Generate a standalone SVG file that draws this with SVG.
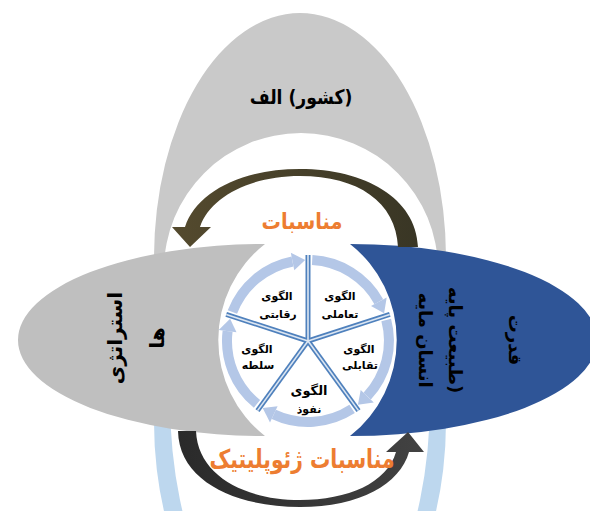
<svg xmlns="http://www.w3.org/2000/svg" width="590" height="511" viewBox="0 0 590 511">
<style>
.ar{font-family:"DejaVu Sans",sans-serif;font-weight:bold;direction:rtl;unicode-bidi:embed;text-anchor:middle}
.lbl{font-size:11px;fill:#000}
.big{font-size:20px;fill:#000}
.side{font-size:18px;fill:#000}
.org{fill:#ED7D31}
.ringarc{fill:none;stroke:#B4C7E7;stroke-width:10}
.ringhead{fill:#B4C7E7}
.div1{stroke:#4F81BD;stroke-width:5;stroke-linecap:butt}
.div2{stroke:#DCE6F2;stroke-width:1.6}
</style>
<defs>
<clipPath id="clipTop"><rect x="0" y="0" width="590" height="300"/></clipPath>
<clipPath id="clipBot"><rect x="0" y="380" width="590" height="131"/></clipPath>
<linearGradient id="gTop" x1="0" y1="0" x2="1" y2="0"><stop offset="0" stop-color="#544A2E"/><stop offset="1" stop-color="#393625"/></linearGradient>
<linearGradient id="gBot" x1="0" y1="0" x2="1" y2="0"><stop offset="0" stop-color="#2A2A2A"/><stop offset="1" stop-color="#424242"/></linearGradient>
</defs>
<rect width="590" height="511" fill="#FFFFFF"/>

<g id="country-a">
<path clip-path="url(#clipTop)" fill="#C9C9C9" fill-rule="evenodd" d="M154 258 A146 245 0 1 1 446 258 A146 245 0 1 1 154 258 Z M164 270 A137 137 0 1 0 438 270 A137 137 0 1 0 164 270 Z"/>
<text class="ar big" transform="translate(301,104) scale(0.86,1)" x="0" y="0">(کشور) الف</text>
</g>

<g id="geopolitics-ring">
<path clip-path="url(#clipBot)" fill="#BDD7EE" fill-rule="evenodd" d="M154 422 A146 245 0 1 1 446 422 A146 245 0 1 1 154 422 Z M170 400 A130 260 0 1 0 430 400 A130 260 0 1 0 170 400 Z"/>
</g>

<g id="strategies">
<path fill="#BFBFBF" d="M265 244 A247 96 0 0 0 265 436 A122 122 0 0 1 265 244 Z"/>
<g transform="translate(115,338) rotate(-90)">
<text class="ar big" x="0" y="7">استراتژی</text>
<text class="ar big" x="0" y="49">ها</text>
</g>
</g>

<g id="power">
<path fill="#2F5597" d="M350 244 A247 96 0 0 1 350 436 A122 122 0 0 0 350 244 Z"/>
<g transform="translate(515,340) rotate(90)">
<text class="ar side" x="0" y="6">قدرت</text>
<text class="ar side" x="0" y="66">(طبیعت پایه</text>
<text class="ar side" x="0" y="96">انسان مایه</text>
</g>
</g>

<g id="patterns">
<circle cx="308" cy="341" r="88" fill="#FFFFFF"/>
</g>

<g id="connectors">
<path class="ringarc" d="M312.2 260.1 A81 81 0 0 1 378.8 301.7"/>
<polygon class="ringhead" points="371,306.1 386.7,297.4 384.1,313.3"/>
<path class="ringarc" d="M386.2 320 A81 81 0 0 1 367.2 396.2"/>
<polygon class="ringhead" points="360.7,390.1 373.8,402.4 357.9,404.8"/>
<path class="ringarc" d="M352.1 408.9 A81 81 0 0 1 273.8 414.4"/>
<polygon class="ringhead" points="277.6,406.3 270,422.6 262.7,408.1"/>
<path class="ringarc" d="M257 403.9 A81 81 0 0 1 227.6 331.1"/>
<polygon class="ringhead" points="236.5,332.2 218.7,330 230.1,318.7"/>
<path class="ringarc" d="M232.4 312 A81 81 0 0 1 292.5 261.5"/>
<polygon class="ringhead" points="294.3,270.3 290.8,252.7 305.2,260"/>
<g>
<line class="div1" x1="308" y1="341" x2="308" y2="255"/>
<line class="div1" x1="308" y1="341" x2="389.8" y2="314.4"/>
<line class="div1" x1="308" y1="341" x2="358.5" y2="410.6"/>
<line class="div1" x1="308" y1="341" x2="257.5" y2="410.6"/>
<line class="div1" x1="308" y1="341" x2="226.2" y2="314.4"/>
<line class="div2" x1="308" y1="341" x2="308" y2="255"/>
<line class="div2" x1="308" y1="341" x2="389.8" y2="314.4"/>
<line class="div2" x1="308" y1="341" x2="358.5" y2="410.6"/>
<line class="div2" x1="308" y1="341" x2="257.5" y2="410.6"/>
<line class="div2" x1="308" y1="341" x2="226.2" y2="314.4"/>
</g>
<path fill="url(#gTop)" d="M418 247 C416 198 365 169 300 169 C240 169 196 193 185 227 L172 227 L190 247 L211 227 L200 227 C210 197 250 176 300 176 C358 176 396 202 398 247 Z"/>
<path fill="url(#gBot)" d="M178 431 C179 482 237 507 300 507 C360 507 400 484 409 452 L424 452 L408 432 L386 452 L396 452 C387 483 348 500 300 500 C247 500 198 477 196 431 Z"/>
</g>

<g id="pattern-interactive"><text class="ar lbl" x="340" y="300">الگوی</text><text class="ar lbl" x="340" y="318">تعاملی</text></g>
<g id="pattern-confrontation"><text class="ar lbl" x="359" y="353">الگوی</text><text class="ar lbl" x="360" y="369">تقابلی</text></g>
<g id="pattern-influence"><text class="ar lbl" x="309" y="395" style="font-size:13px">الگوی</text><text class="ar lbl" x="309" y="413">نفوذ</text></g>
<g id="pattern-dominance"><text class="ar lbl" x="257" y="353">الگوی</text><text class="ar lbl" x="258" y="369">سلطه</text></g>
<g id="pattern-competitive"><text class="ar lbl" x="277" y="300">الگوی</text><text class="ar lbl" x="278" y="318">رقابتی</text></g>

<g id="relations">
<text class="ar org" transform="translate(302,229) scale(0.88,1)" x="0" y="0" style="font-size:22px">مناسبات</text>
</g>
<g id="geopolitical-relations">
<text class="ar org" transform="translate(302,468) scale(0.78,1)" x="0" y="0" style="font-size:26px">مناسبات ژئوپلیتیک</text>
</g>
</svg>
